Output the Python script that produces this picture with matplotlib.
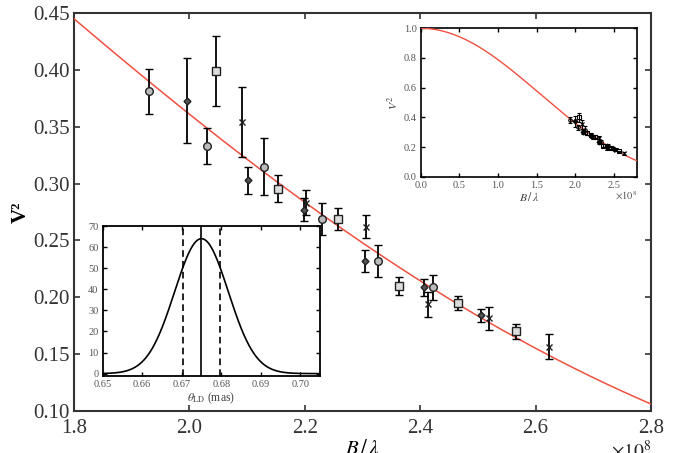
import numpy as np
import matplotlib
matplotlib.use("Agg")
import matplotlib.pyplot as plt

plt.rcParams['font.family'] = ['Liberation Serif', 'DejaVu Serif']
plt.rcParams['mathtext.fontset'] = 'stix'

# ---- data (B/lambda in units of 1e8) ----
circ_x = [1.930, 2.031, 2.130, 2.230, 2.327, 2.423]
circ_y = [0.381, 0.333, 0.315, 0.269, 0.232, 0.209]
circ_e = [0.020, 0.016, 0.025, 0.014, 0.014, 0.011]

diam_x = [1.996, 2.101, 2.199, 2.304, 2.407, 2.505]
diam_y = [0.373, 0.303, 0.277, 0.232, 0.209, 0.184]
diam_e = [0.037, 0.012, 0.010, 0.010, 0.0075, 0.006]

sq_x = [2.046, 2.153, 2.257, 2.363, 2.465, 2.566]
sq_y = [0.399, 0.2955, 0.269, 0.210, 0.195, 0.170]
sq_e = [0.031, 0.012, 0.0097, 0.008, 0.0063, 0.0063]

cr_x = [2.091, 2.202, 2.306, 2.4135, 2.519, 2.624]
cr_y = [0.354, 0.283, 0.262, 0.194, 0.1815, 0.1565]
cr_e = [0.031, 0.011, 0.010, 0.011, 0.010, 0.011]

theta_ud_mas = 0.634      # model disk diameter for the red curve
theta_ld_best = 0.675     # posterior peak
theta_ld_sigma = 0.0068
theta_ld_peak = 64.0
theta_ld_lo = 0.6702
theta_ld_hi = 0.6798

main_xticks = [1.8, 2.0, 2.2, 2.4, 2.6, 2.8]
main_yticks = [0.10, 0.15, 0.20, 0.25, 0.30, 0.35, 0.40, 0.45]


def j1(x):
    tau = np.linspace(0, np.pi, 2001)
    x = np.atleast_1d(x)
    vals = np.cos(tau[None, :] - x[:, None] * np.sin(tau[None, :]))
    return np.trapezoid(vals, tau, axis=1) / np.pi


def v2_model(b1e8):
    th = theta_ud_mas * np.pi / 180 / 3600 / 1000
    x = np.pi * th * np.asarray(b1e8) * 1e8
    x = np.where(x == 0, 1e-9, x)
    return (2 * j1(x) / x) ** 2


W, H = 677, 453
fig = plt.figure(figsize=(W / 100, H / 100), dpi=100)

spine_col = '#333333'
tick_col = '#333333'
red = '#f05040'

ax = fig.add_axes([74 / W, (H - 411) / H, 577 / W, 398 / H])
bb = np.linspace(1.8, 2.8, 300)
ax.plot(bb, v2_model(bb), color=red, lw=1.1, zorder=3)

ek = dict(ls='none', ecolor='black', elinewidth=1.3, capsize=3, capthick=1.3,
          mec='#222222', mew=1.0, ms=5.5, zorder=4)
ax.errorbar(circ_x, circ_y, yerr=circ_e, fmt='o', mfc='#bbbbbb', **ek)
ax.errorbar(diam_x, diam_y, yerr=diam_e, fmt='D', mfc='#555555', **dict(ek, ms=3.5))
ax.errorbar(sq_x, sq_y, yerr=sq_e, fmt='s', mfc='#dddddd', **ek)
ax.errorbar(cr_x, cr_y, yerr=cr_e, fmt='x', **dict(ek, ms=4.5))

ax.set_xlim(1.8, 2.8)
ax.set_ylim(0.10, 0.45)
ax.set_xticks(main_xticks)
ax.set_xticklabels([f"{v:.1f}" for v in main_xticks])
ax.set_yticks(main_yticks)
ax.set_yticklabels([f"{v:.2f}" for v in main_yticks])
ax.tick_params(direction='in', top=True, right=True, length=4, width=1.2,
               labelsize=15, colors=tick_col)
ax.tick_params(axis='x', pad=6)
ax.tick_params(axis='y', pad=3)
for s in ax.spines.values():
    s.set_color(spine_col)
    s.set_linewidth(1.5)
ax.set_xlabel(r'$B\,/\,\lambda$', fontsize=15, labelpad=0)
ax.xaxis.set_label_coords(0.5, -0.072)
ax.set_ylabel('V²', fontsize=15, fontweight='bold', labelpad=2)
ax.text(1.0, -0.072, r'$\times10^{8}$', transform=ax.transAxes, ha='right', va='top',
        fontsize=14, color='#222222')

# ---- inset 1: posterior of theta_LD ----
ax1 = fig.add_axes([102.7 / W, (H - 375.7) / H, 217.3 / W, 149.7 / H])
tt = np.linspace(0.65, 0.705, 500)
pdf = theta_ld_peak * np.exp(-0.5 * ((tt - theta_ld_best) / theta_ld_sigma) ** 2)
ax1.plot(tt, pdf, color='black', lw=1.2)
ax1.axvline(theta_ld_best, color='black', lw=1.2)
ax1.axvline(theta_ld_lo, color='black', lw=1.2, ls=(0, (4, 2.5)))
ax1.axvline(theta_ld_hi, color='black', lw=1.2, ls=(0, (4, 2.5)))
ax1.set_xlim(0.65, 0.705)
ax1.set_ylim(-1, 70)
ax1.set_xticks([0.65, 0.66, 0.67, 0.68, 0.69, 0.70])
ax1.set_xticklabels(['0.65', '0.66', '0.67', '0.68', '0.69', '0.70'])
ax1.set_yticks(range(0, 71, 10))
ax1.tick_params(direction='in', top=True, right=True, length=3, width=1.0,
                labelsize=7.5, labelcolor='#555555', pad=3)
for s in ax1.spines.values():
    s.set_linewidth(1.3)
ax1.set_xlabel(r'$\theta_{\rm LD}$ (mas)', fontsize=8.5, color='#444444', labelpad=1)

# ---- inset 2: full visibility curve ----
ax2 = fig.add_axes([420.7 / W, (H - 176.7) / H, 216.6 / W, 148.4 / H])
bfull = np.linspace(0.0, 2.8, 400)
ax2.plot(bfull, v2_model(bfull), color=red, lw=1.0, zorder=3)
ek2 = dict(ls='none', color='black', ecolor='black', elinewidth=0.8, capsize=1.5,
           capthick=0.8, ms=2.5, mew=0.8, zorder=4)
ax2.errorbar(circ_x, circ_y, yerr=circ_e, fmt='o', mfc='none', **ek2)
ax2.errorbar(diam_x, diam_y, yerr=diam_e, fmt='D', **ek2)
ax2.errorbar(sq_x, sq_y, yerr=sq_e, fmt='s', mfc='none', **ek2)
ax2.errorbar(cr_x, cr_y, yerr=cr_e, fmt='x', **ek2)
ax2.set_xlim(0, 2.8)
ax2.set_ylim(0, 1.0)
ax2.set_xticks([0.0, 0.5, 1.0, 1.5, 2.0, 2.5])
ax2.set_xticklabels(['0.0', '0.5', '1.0', '1.5', '2.0', '2.5'])
ax2.set_yticks([0.0, 0.2, 0.4, 0.6, 0.8, 1.0])
ax2.set_yticklabels(['0.0', '0.2', '0.4', '0.6', '0.8', '1.0'])
ax2.tick_params(direction='in', top=True, right=True, length=3, width=1.0,
                labelsize=7.5, labelcolor='#555555', pad=3)
for s in ax2.spines.values():
    s.set_linewidth(1.2)
ax2.set_xlabel(r'$B\,/\,\lambda$', fontsize=8.5, color='#444444', labelpad=1)
ax2.set_ylabel(r'$V^2$', fontsize=8.5, color='#444444', labelpad=2)
ax2.text(1.0, -0.09, r'$\times10^{8}$', transform=ax2.transAxes, ha='right', va='top',
         fontsize=7.5, color='#555555')

fig.savefig('out.png', dpi=100)
